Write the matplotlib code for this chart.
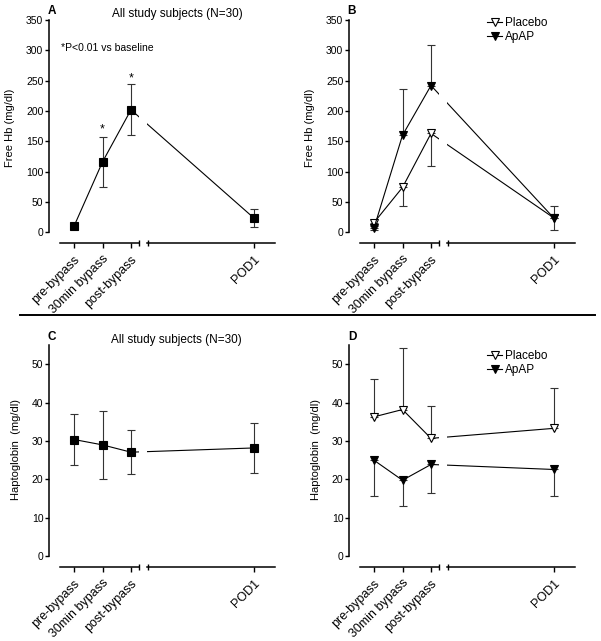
import matplotlib.pyplot as plt
from matplotlib.lines import Line2D

plt.rcParams['font.family'] = ['Liberation Sans', 'DejaVu Sans']

# data
timepoints = ['pre-bypass', '30min bypass', 'post-bypass', 'POD1']

hb_all = [10, 116, 202, 24]
hb_all_err = [2, 41, 42, 14.5]
hb_placebo = [16, 74, 163, 24]
hb_placebo_lo = [13, 31, 53, 21]
hb_apap = [7, 160, 242, 24]
hb_apap_hi = [3, 76, 66, 20]

hp_all = [30.4, 29.0, 27.1, 28.2]
hp_all_err = [6.7, 8.8, 5.7, 6.4]
hp_placebo = [36.3, 38.2, 30.7, 33.3]
hp_placebo_hi = [9.9, 16.1, 8.5, 10.5]
hp_apap = [25.0, 19.8, 23.9, 22.6]
hp_apap_lo = [9.2, 6.7, 7.5, 6.9]

W, H = 601, 641
fig = plt.figure(figsize=(W / 100, H / 100), dpi=100)

xpos = [0, 1, 2, 6.3]
step = 28.5  # px per category


def make_panel(x0, y_top, y_zero, ylim, yticks):
    b = 1 - y_zero / H
    h = (y_zero - y_top) / H
    axl = fig.add_axes([(x0 + 60) / W, b, 79 / W, h])
    axr = fig.add_axes([(x0 + 147) / W, b, 128 / W, h], sharey=axl)
    axl.set_xlim(-14 / step, 65 / step)
    axr.set_xlim(73 / step, 201 / step)
    axl.set_ylim(*ylim)
    axl.set_yticks(yticks)
    for ax in (axl, axr):
        ax.spines['top'].set_visible(False)
        ax.spines['right'].set_visible(False)
        ax.spines['bottom'].set_position(('outward', 8))
        ax.spines['bottom'].set_linewidth(1.1)
        ax.tick_params(axis='x', direction='out', length=3.5, width=1.0, labelsize=9)
        ax.tick_params(axis='x', which='minor', direction='inout', length=5, width=1.0)
    axl.spines['left'].set_position(('outward', 8))
    axl.spines['left'].set_linewidth(1.1)
    axl.tick_params(axis='y', direction='out', length=3, width=1.0, labelsize=7.5, pad=1)
    axr.spines['left'].set_visible(False)
    axr.tick_params(axis='y', left=False, labelleft=False)
    axl.set_xticks(xpos[:3])
    axl.set_xticklabels(timepoints[:3], rotation=45, ha='right', va='top',
                        rotation_mode='anchor')
    axl.set_xticks([64.5 / step], minor=True)
    axr.set_xticks(xpos[3:])
    axr.set_xticklabels(timepoints[3:], rotation=45, ha='right', va='top',
                        rotation_mode='anchor')
    axr.set_xticks([73.5 / step], minor=True)
    return axl, axr


def series(axes, y, lo, hi, marker, fill):
    for ax in axes:
        ax.errorbar(xpos, y, yerr=[lo, hi], color='black', ecolor='#333333',
                    lw=0.8, elinewidth=0.8, capsize=3, capthick=0.8,
                    marker=marker, ms=6 if marker == 'v' else 5.5,
                    mfc=fill, mec='black', mew=0.8, zorder=3)


zeros = [0, 0, 0, 0]

# A
axes_a = make_panel(0, 20, 232.3, (0, 350), range(0, 351, 50))
series(axes_a, hb_all, hb_all_err, hb_all_err, 's', 'black')
axes_a[0].text(1, 169, '*', ha='center', va='center', fontsize=9)
axes_a[0].text(2, 253, '*', ha='center', va='center', fontsize=9)

# B
axes_b = make_panel(300, 20, 232.3, (0, 350), range(0, 351, 50))
series(axes_b, hb_placebo, hb_placebo_lo, zeros, 'v', 'white')
series(axes_b, hb_apap, zeros, hb_apap_hi, 'v', 'black')

# C
axes_c = make_panel(0, 345, 556.3, (0, 55), range(0, 51, 10))
series(axes_c, hp_all, hp_all_err, hp_all_err, 's', 'black')

# D
axes_d = make_panel(300, 345, 556.3, (0, 55), range(0, 51, 10))
series(axes_d, hp_placebo, zeros, hp_placebo_hi, 'v', 'white')
series(axes_d, hp_apap, hp_apap_lo, zeros, 'v', 'black')

# labels and titles
for x, y, s in [(52, 11, 'A'), (352, 11, 'B'), (52, 337, 'C'), (352, 337, 'D')]:
    fig.text(x / W, 1 - y / H, s, fontsize=8.5, fontweight='bold', ha='center', va='center')
fig.text(177 / W, 1 - 14 / H, 'All study subjects (N=30)', fontsize=8.5, ha='center', va='center')
fig.text(176 / W, 1 - 340 / H, 'All study subjects (N=30)', fontsize=8.5, ha='center', va='center')
fig.text(61 / W, 1 - 48 / H, '*P<0.01 vs baseline', fontsize=7.5, ha='left', va='center')

fig.text(10 / W, 1 - 128 / H, 'Free Hb (mg/dl)', rotation=90, fontsize=8, ha='center', va='center')
fig.text(310 / W, 1 - 128 / H, 'Free Hb (mg/dl)', rotation=90, fontsize=8, ha='center', va='center')
fig.text(16 / W, 1 - 450 / H, 'Haptoglobin  (mg/dl)', rotation=90, fontsize=8, ha='center', va='center')
fig.text(316 / W, 1 - 450 / H, 'Haptoglobin  (mg/dl)', rotation=90, fontsize=8, ha='center', va='center')

handles = [Line2D([], [], color='black', lw=0.8, marker='v', ms=6, mfc='white', mec='black', mew=0.8),
           Line2D([], [], color='black', lw=0.8, marker='v', ms=6, mfc='black', mec='black', mew=0.8)]
for ytop in (17, 350):
    fig.legend(handles, ['Placebo', 'ApAP'], loc='upper left',
               bbox_to_anchor=(487 / W, 1 - ytop / H), frameon=False, fontsize=8.5,
               handlelength=1.3, handletextpad=0.2, borderpad=0, borderaxespad=0,
               labelspacing=0.15)

# separator between rows
fig.add_artist(Line2D([20 / W, 595 / W], [1 - 315 / H, 1 - 315 / H], color='black', lw=1.4))

fig.savefig('out.png', dpi=100)
